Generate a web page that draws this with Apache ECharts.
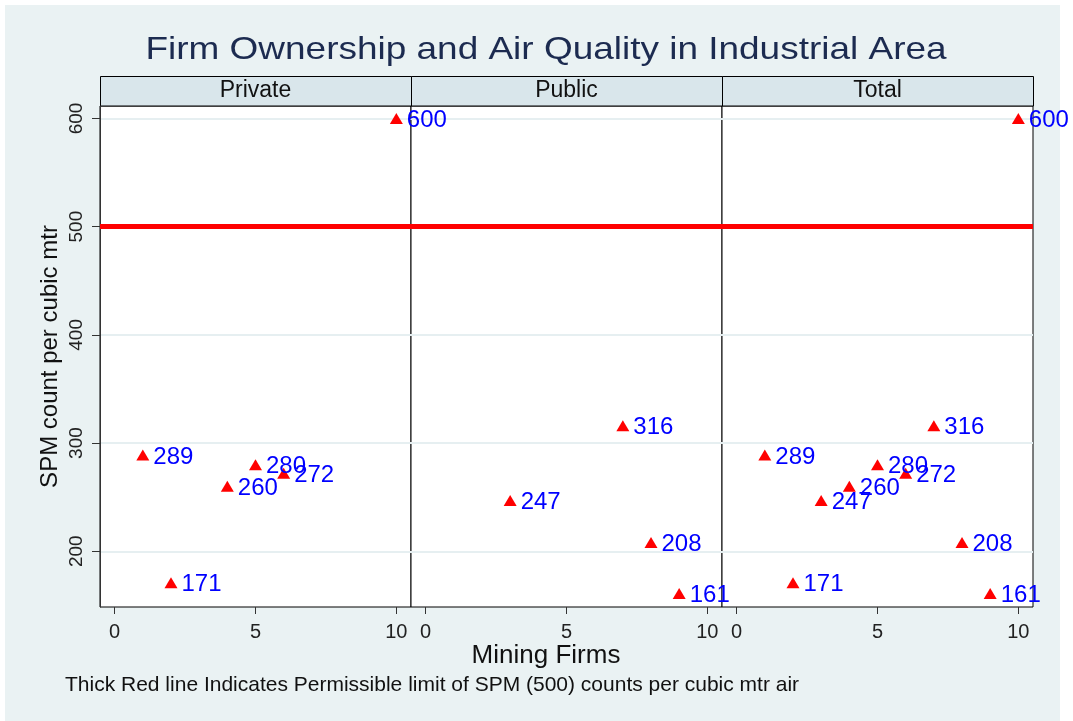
<!DOCTYPE html>
<html>
<head>
<meta charset="utf-8">
<script src="https://cdn.jsdelivr.net/npm/echarts@6/dist/echarts.min.js"></script>
<style>
html, body { margin: 0; padding: 0; background: #fff; }
#main { width: 1073px; height: 721px; }
</style>
</head>
<body>
<div id="main"></div>
<script>
// data
var panels = ['Private', 'Public', 'Total'];
var privateFirms = [1, 2, 4, 5, 6, 10];
var privateSpm = [289, 171, 260, 280, 272, 600];
var publicFirms = [3, 7, 8, 9];
var publicSpm = [247, 316, 208, 161];
var totalFirms = [1, 2, 3, 4, 5, 6, 7, 8, 9, 10];
var totalSpm = [289, 171, 247, 260, 280, 272, 316, 208, 161, 600];
var limitSpm = 500;
var xTicks = [0, 5, 10];
var yTicks = [200, 300, 400, 500, 600];

var font = 'Liberation Sans, Arial, Helvetica, sans-serif';

function pairs(xs, ys) {
	var out = [];
	for (var i = 0; i < xs.length; i++) out.push([xs[i], ys[i]]);
	return out;
}

var panelData = [
	pairs(privateFirms, privateSpm),
	pairs(publicFirms, publicSpm),
	pairs(totalFirms, totalSpm)
];

var gridLeft = [100, 411, 722];
var gridW = 311, gridTop = 106, gridH = 501;

var grids = [], xAxes = [], yAxes = [], series = [], graphics = [];

// background
graphics.push({
	type: 'rect', z: -10, silent: true,
	shape: { x: 5, y: 5, width: 1055, height: 716 },
	style: { fill: '#EAF2F3' }
});

// title (a bit wider than the font's own shape, like the original)
graphics.push({
	type: 'text', silent: true, x: 546, y: 50, scaleX: 1.155,
	style: { text: 'Firm Ownership and Air Quality in Industrial Area', fontFamily: font, fontSize: 32, fill: '#1C2B50', align: 'center', verticalAlign: 'middle' }
});

for (var p = 0; p < 3; p++) {
	grids.push({
		left: gridLeft[p], top: gridTop, width: gridW, height: gridH,
		show: true, backgroundColor: '#fff', borderColor: '#000', borderWidth: 1
	});
	xAxes.push({
		gridIndex: p, type: 'value', min: -0.52, max: 10.52,
		axisLine: { show: false, onZero: false },
		axisTick: { show: true, length: 7, customValues: xTicks, lineStyle: { color: '#333' } },
		axisLabel: { customValues: xTicks, fontFamily: font, fontSize: 20, color: '#222', margin: 15 },
		splitLine: { show: false }
	});
	yAxes.push({
		gridIndex: p, type: 'value', min: 148.5, max: 611.5,
		name: p === 0 ? 'SPM count per cubic mtr' : '',
		nameLocation: 'middle', nameGap: 38,
		nameTextStyle: { fontFamily: font, fontSize: 24, color: '#111' },
		axisLine: { show: p === 0, onZero: false, lineStyle: { color: '#333', width: 1 } },
		axisTick: { show: p === 0, inside: false, length: 8, customValues: yTicks, lineStyle: { color: '#333' } },
		axisLabel: { show: p === 0, customValues: yTicks, rotate: 90, fontFamily: font, fontSize: 19, color: '#222', margin: 14 },
		splitLine: { show: true, lineStyle: { color: '#E6EFF1', width: 2 } }
	});
	series.push({
		type: 'scatter', xAxisIndex: p, yAxisIndex: p,
		data: panelData[p],
		symbol: 'triangle', symbolSize: [13, 11],
		itemStyle: { color: '#FF0000', opacity: 1 },
		label: {
			show: true, position: 'right', distance: 4, offset: [0, 2],
			formatter: function (d) { return d.value[1]; },
			fontFamily: font, fontSize: 24, color: '#0000FF'
		},
		markLine: {
			silent: true, symbol: 'none', animation: false,
			label: { show: false },
			lineStyle: { color: '#FF0000', width: 5, type: 'solid', opacity: 1 },
			data: [{ yAxis: limitSpm }]
		},
		animation: false
	});
	// strip header
	graphics.push({
		type: 'rect', silent: true,
		shape: { x: gridLeft[p] + 0.5, y: 76.5, width: gridW, height: 29.5 },
		style: { fill: '#D9E6EB', stroke: '#000', lineWidth: 1 }
	});
	graphics.push({
		type: 'text', silent: true,
		x: gridLeft[p] + gridW / 2, y: 91,
		style: { text: panels[p], fontFamily: font, fontSize: 23, fill: '#111', align: 'center', verticalAlign: 'middle' }
	});
}

// x axis title
graphics.push({
	type: 'text', silent: true, x: 546, y: 656,
	style: { text: 'Mining Firms', fontFamily: font, fontSize: 26, fill: '#111', align: 'center', verticalAlign: 'middle' }
});
// note
graphics.push({
	type: 'text', silent: true, x: 65, y: 685,
	style: { text: 'Thick Red line Indicates Permissible limit of SPM (500) counts per cubic mtr air', fontFamily: font, fontSize: 21, fill: '#111', align: 'left', verticalAlign: 'middle' }
});

var myChart = echarts.init(document.getElementById('main'));
myChart.setOption({
	backgroundColor: '#fff',
	animation: false,
	grid: grids,
	xAxis: xAxes,
	yAxis: yAxes,
	series: series,
	graphic: graphics
});
</script>
</body>
</html>
